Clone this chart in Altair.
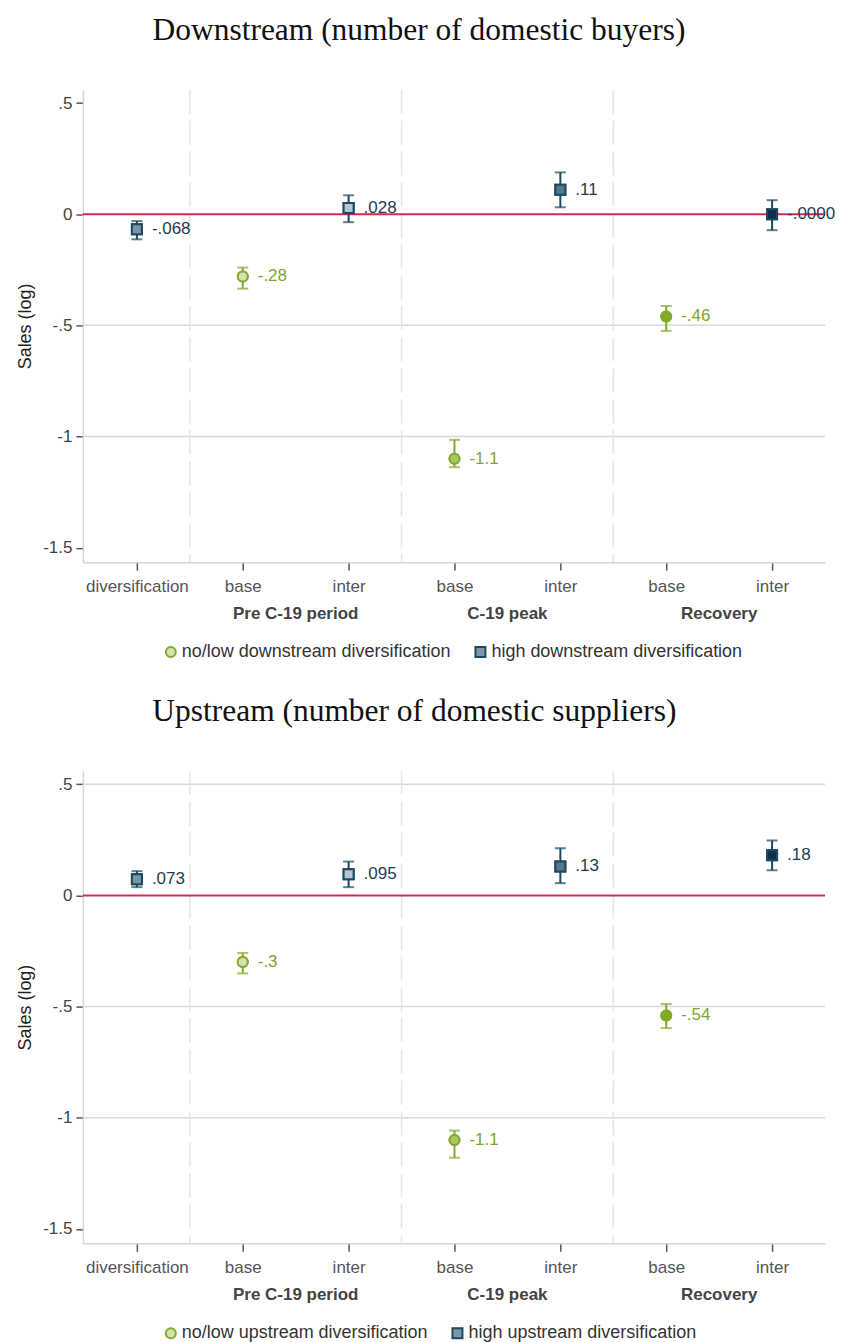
import altair as alt
import pandas as pd

# ---- shared layout values -------------------------------------------------
positions = [1, 2, 3, 4, 5, 6, 7]
tick_names = ["diversification", "base", "inter", "base", "inter", "base", "inter"]
series = ["high", "low", "high", "low", "high", "low", "high"]
group_names = ["Pre C-19 period", "C-19 peak", "Recovery"]
group_pos = [2.5, 4.5, 6.5]
separators = [1.5, 3.5, 5.5]
y_ticks = [0.5, 0, -0.5, -1, -1.5]
y_tick_labels = [".5", "0", "-.5", "-1", "-1.5"]

# marker fills darken from the pre period to the recovery
point_fills = ["#7d94a2", "#d3e3b0", "#b5c6cf", "#a8c765", "#577688", "#82aa25", "#0b3049"]

# ---- downstream estimates --------------------------------------------------
down_title = "Downstream (number of domestic buyers)"
down_legend = ["no/low downstream diversification", "high downstream diversification"]
down_coef = [-0.068, -0.28, 0.028, -1.1, 0.11, -0.46, 0.0]
down_lo = [-0.113, -0.335, -0.036, -1.138, 0.031, -0.525, -0.072]
down_hi = [-0.031, -0.240, 0.085, -1.015, 0.188, -0.413, 0.063]
down_text = ["-.068", "-.28", ".028", "-1.1", ".11", "-.46", "-.0000"]
down_grid = [-0.5, -1]

# ---- upstream estimates ----------------------------------------------------
up_title = "Upstream (number of domestic suppliers)"
up_legend = ["no/low upstream diversification", "high upstream diversification"]
up_coef = [0.073, -0.3, 0.095, -1.1, 0.13, -0.54, 0.18]
up_lo = [0.037, -0.351, 0.037, -1.180, 0.055, -0.597, 0.113]
up_hi = [0.109, -0.259, 0.152, -1.058, 0.212, -0.489, 0.247]
up_text = [".073", "-.3", ".095", "-1.1", ".13", "-.54", ".18"]
up_grid = [0.5, -0.5, -1]

GREEN = "#84aa2c"
GREEN_TEXT = "#7ea42c"
NAVY = "#1d4a60"
NAVY_TEXT = "#1f3d52"
LEGEND_FILLS = ["#d3e3b0", "#7d94a2"]

SANS = "Liberation Sans"
W, H = 743, 473
X_DOMAIN = [0.49, 7.5]
Y_DOMAIN = [-1.565, 0.56]


def js_list(items):
    return "[" + ",".join(repr(v) for v in items) + "]"


def panel(title, legend_labels, coef, lo, hi, text, grid):
    df = pd.DataFrame({
        "pos": positions,
        "coef": coef,
        "lo": lo,
        "hi": hi,
        "text": text,
        "fill": point_fills,
    })
    df["series"] = [legend_labels[0] if s == "low" else legend_labels[1] for s in series]
    df["shape"] = ["circle" if s == "low" else "square" for s in series]
    df["stroke"] = [GREEN if s == "low" else NAVY for s in series]
    df["tcolor"] = [GREEN_TEXT if s == "low" else NAVY_TEXT for s in series]

    x = alt.X(
        "pos:Q",
        scale=alt.Scale(domain=X_DOMAIN, nice=False, zero=False),
        axis=alt.Axis(
            values=positions,
            labelExpr=f"{js_list(tick_names)}[datum.value - 1]",
            title=None,
            grid=False,
            domainColor="#d6d6d6",
            domainWidth=1.5,
            tickColor="#555555",
            tickSize=8,
            tickWidth=1.5,
            labelPadding=8,
            labelFont=SANS,
            labelFontSize=17,
            labelColor="#555555",
        ),
    )
    y_scale = alt.Scale(domain=Y_DOMAIN, nice=False, zero=False)
    y_axis = alt.Axis(
        values=y_ticks,
        labelExpr=f"{js_list(y_tick_labels)}[indexof({js_list(y_ticks)}, datum.value)]",
        title="Sales (log)",
        grid=False,
        domainColor="#d6d6d6",
        domainWidth=1.5,
        tickColor="#555555",
        tickSize=7,
        tickWidth=1.5,
        labelPadding=4,
        labelFont=SANS,
        labelFontSize=17,
        labelColor="#444444",
        titleFont=SANS,
        titleFontSize=18,
        titleFontWeight="normal",
        titleColor="#222222",
        titlePadding=8,
    )

    base = alt.Chart(df)

    gridlines = alt.Chart(pd.DataFrame({"g": grid})).mark_rule(
        color="#d9d9d9", strokeWidth=1.5
    ).encode(y=alt.Y("g:Q", scale=y_scale, axis=y_axis))

    seps = alt.Chart(pd.DataFrame({"s": separators})).mark_rule(
        color="#e6e6e6", strokeWidth=1.5, strokeDash=[24, 7]
    ).encode(x=alt.X("s:Q", scale=alt.Scale(domain=X_DOMAIN, nice=False)))

    zero = alt.Chart(pd.DataFrame({"z": [0]})).mark_rule(
        color="#d7284f", strokeWidth=2
    ).encode(y=alt.Y("z:Q", scale=y_scale))

    bars = base.mark_rule(strokeWidth=2).encode(
        x=x,
        y=alt.Y("lo:Q", scale=y_scale),
        y2="hi:Q",
        color=alt.Color("stroke:N", scale=None),
    )
    cap_lo = base.mark_tick(orient="horizontal", size=11, thickness=2).encode(
        x=x, y=alt.Y("lo:Q", scale=y_scale), color=alt.Color("stroke:N", scale=None)
    )
    cap_hi = base.mark_tick(orient="horizontal", size=11, thickness=2).encode(
        x=x, y=alt.Y("hi:Q", scale=y_scale), color=alt.Color("stroke:N", scale=None)
    )

    # legend carrier: symbols keyed to the series
    legend_pts = base.mark_point(opacity=1, strokeWidth=2, size=100).encode(
        x=x,
        y=alt.Y("coef:Q", scale=y_scale),
        shape=alt.Shape(
            "series:N",
            scale=alt.Scale(domain=legend_labels, range=["circle", "square"]),
            legend=alt.Legend(
                title=None,
                orient="none",
                direction="horizontal",
                legendX=79,
                legendY=554,
                labelFont=SANS,
                labelFontSize=18,
                labelColor="#333333",
                labelOffset=2,
                labelLimit=500,
                symbolSize=100,
                symbolStrokeWidth=2,
                columnPadding=20,
            ),
        ),
        stroke=alt.Stroke(
            "series:N", scale=alt.Scale(domain=legend_labels, range=[GREEN, NAVY])
        ),
        fill=alt.Fill(
            "series:N", scale=alt.Scale(domain=legend_labels, range=LEGEND_FILLS)
        ),
    )
    # the estimates themselves, each with its own fill
    pts = base.mark_point(opacity=1, strokeWidth=2, size=100, filled=False).encode(
        x=x,
        y=alt.Y("coef:Q", scale=y_scale),
        shape=alt.Shape("shape:N", scale=None),
        stroke=alt.Stroke("stroke:N", scale=None),
        fill=alt.Fill("fill:N", scale=None),
    )
    labels = base.mark_text(
        align="left", baseline="middle", dx=15, font=SANS, fontSize=17
    ).encode(
        x=x,
        y=alt.Y("coef:Q", scale=y_scale),
        text="text:N",
        color=alt.Color("tcolor:N", scale=None),
    )
    groups = alt.Chart(
        pd.DataFrame({"p": group_pos, "name": group_names})
    ).mark_text(
        font=SANS, fontSize=17, fontWeight="bold", color="#444444", baseline="middle"
    ).encode(
        x=alt.X("p:Q", scale=alt.Scale(domain=X_DOMAIN, nice=False)),
        y=alt.value(H + 52),
        text="name:N",
    )

    return alt.layer(
        gridlines, seps, zero, bars, cap_lo, cap_hi, legend_pts, pts, labels, groups
    ).properties(
        width=W,
        height=H,
        title=alt.TitleParams(
            title,
            font="Liberation Serif",
            fontSize=31.5,
            fontWeight="normal",
            color="#111111",
            anchor="middle",
            frame="bounds",
            offset=43,
            dx=-7,
        ),
    )


top = panel(down_title, down_legend, down_coef, down_lo, down_hi, down_text, down_grid)
bottom = panel(up_title, up_legend, up_coef, up_lo, up_hi, up_text, up_grid)

chart = alt.vconcat(top, bottom, spacing=34).resolve_scale(
    shape="independent", stroke="independent", fill="independent"
).resolve_legend(
    shape="independent", stroke="independent", fill="independent"
).properties(
    padding={"left": 16, "top": 13, "right": 5, "bottom": 0},
    background="white",
).configure_view(stroke=None)

chart.save("out.html", embed_options={"renderer": "svg", "actions": False})
